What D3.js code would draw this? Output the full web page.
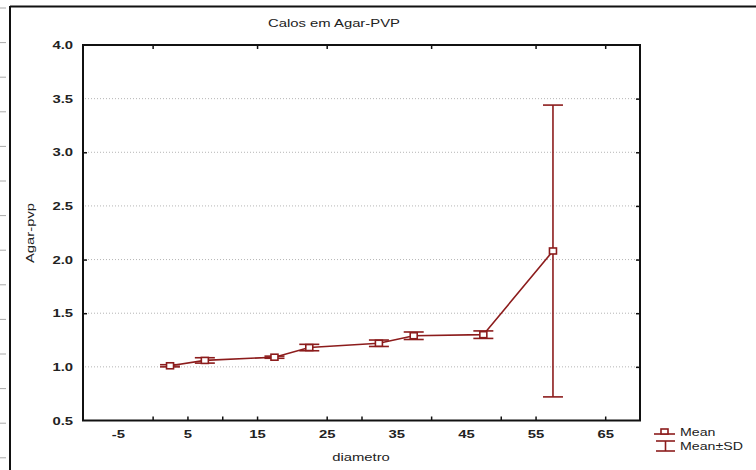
<!DOCTYPE html>
<html>
<head>
<meta charset="utf-8">
<script src="https://cdn.jsdelivr.net/npm/d3@7"></script>
<style>
  body { margin: 0; background: #fff; }
  svg { display: block; }
  text { font-family: "Liberation Sans", Arial, sans-serif; fill: #222; }
</style>
</head>
<body>
<svg id="chart" width="756" height="470"></svg>
<script>
/* data */
var diametro = [2.5, 7.5, 17.5, 22.5, 32.5, 37.5, 47.5, 57.5];
var meanVals = [1.01, 1.06, 1.09, 1.18, 1.22, 1.29, 1.30, 2.08];
var sdVals   = [0.01, 0.025, 0.01, 0.03, 0.03, 0.035, 0.035, 1.36];

var xLabelTicks  = [-5, 5, 15, 25, 35, 45, 55, 65];
var xBottomTicks = [0, 5, 10, 15, 25, 30, 40, 50, 55, 65];
var xTopTicks    = [0, 15, 25, 40, 55, 65];
var yLabelTicks  = [0.5, 1.0, 1.5, 2.0, 2.5, 3.0, 3.5, 4.0];
var yLeftTicks   = [1.5, 2.0, 3.0];
var yRightTicks  = [1.0, 1.5, 2.0, 2.5, 3.0, 3.5];
var gridVals     = [1.0, 1.5, 2.0, 2.5, 3.0, 3.5];

var red = "#8c1c1c";
var stretch = 1.35;

var svg = d3.select("#chart");
var pLeft = 83, pRight = 640, pTop = 45, pBottom = 420.5;

var x = d3.scaleLinear().domain([-10, 70]).range([pLeft, pRight]);
var y = d3.scaleLinear().domain([0.5, 4.0]).range([pBottom, pTop]);

/* outer frame with ruler marks */
svg.append("line").attr("x1", 10).attr("x2", 756).attr("y1", 6.5).attr("y2", 6.5)
  .attr("stroke", "#111").attr("stroke-width", 2);
svg.append("line").attr("x1", 10).attr("x2", 10).attr("y1", 6).attr("y2", 470)
  .attr("stroke", "#111").attr("stroke-width", 2);
svg.append("g").selectAll("line")
  .data(d3.range(8, 470, 34.6))
  .enter().append("line")
  .attr("x1", 0).attr("x2", 6)
  .attr("y1", function(d) { return d; }).attr("y2", function(d) { return d; })
  .attr("stroke", "#aaa");

/* grid */
svg.append("g").selectAll("line")
  .data(gridVals)
  .enter().append("line")
  .attr("x1", pLeft + 2).attr("x2", pRight - 2)
  .attr("y1", function(d) { return y(d); }).attr("y2", function(d) { return y(d); })
  .attr("stroke", "#b5b5b5").attr("stroke-dasharray", "1,2");

/* tick marks (inside) */
function marks(axis, tr) {
  var g = svg.append("g").attr("transform", tr).call(axis.tickSize(-4).tickFormat(""));
  g.select(".domain").remove();
  g.selectAll("line").attr("stroke", "#111").attr("stroke-width", 1.5);
}
marks(d3.axisBottom(x).tickValues(xBottomTicks), "translate(0," + pBottom + ")");
marks(d3.axisTop(x).tickValues(xTopTicks), "translate(0," + pTop + ")");
marks(d3.axisLeft(y).tickValues(yLeftTicks), "translate(" + pLeft + ",0)");
marks(d3.axisRight(y).tickValues(yRightTicks), "translate(" + pRight + ",0)");

/* tick labels */
var xLab = svg.append("g").attr("transform", "translate(0," + (pBottom + 10) + ")")
  .call(d3.axisBottom(x).tickValues(xLabelTicks).tickSize(0).tickPadding(0)
    .tickFormat(function(d) { return String(d); }));
xLab.select(".domain").remove();
xLab.selectAll("text")
  .attr("y", 0).attr("dy", "0.71em")
  .attr("transform", "scale(" + stretch + ",1)")
  .attr("x", 0)
  .style("font-size", "11px").style("font-weight", "bold");

var yLab = svg.append("g").attr("transform", "translate(73,0)")
  .call(d3.axisLeft(y).tickValues(yLabelTicks).tickSize(0).tickPadding(0).tickFormat(d3.format(".1f")));
yLab.select(".domain").remove();
yLab.selectAll("text")
  .attr("x", 0)
  .attr("transform", "scale(" + stretch + ",1)")
  .style("font-size", "11px").style("font-weight", "bold");

/* plot frame */
svg.append("rect")
  .attr("x", pLeft).attr("y", pTop)
  .attr("width", pRight - pLeft).attr("height", pBottom - pTop)
  .attr("fill", "none").attr("stroke", "#111").attr("stroke-width", 2);

/* titles */
function label(txt, tx, ty, rot, size) {
  svg.append("text")
    .attr("transform", "translate(" + tx + "," + ty + ")" + (rot ? " rotate(" + rot + ")" : "") + " scale(" + stretch + ",1)")
    .attr("text-anchor", "middle")
    .style("font-size", size + "px")
    .text(txt);
}
label("Calos em Agar-PVP", 334, 27, 0, 11);
label("diametro", 361, 461, 0, 11);
label("Agar-pvp", 34, 233, -90, 11);

/* data */
var pts = diametro.map(function(d, i) { return {x: d, m: meanVals[i], sd: sdVals[i]}; });

svg.append("path")
  .datum(pts)
  .attr("fill", "none").attr("stroke", red).attr("stroke-width", 1.6)
  .attr("d", d3.line().x(function(d) { return x(d.x); }).y(function(d) { return y(d.m); }));

var eb = svg.append("g").selectAll("g").data(pts).enter().append("g")
  .attr("stroke", red).attr("stroke-width", 1.6).attr("fill", "none");
eb.append("line")
  .attr("x1", function(d) { return x(d.x); }).attr("x2", function(d) { return x(d.x); })
  .attr("y1", function(d) { return y(d.m + d.sd); }).attr("y2", function(d) { return y(d.m - d.sd); });
eb.append("line")
  .attr("x1", function(d) { return x(d.x) - 10; }).attr("x2", function(d) { return x(d.x) + 10; })
  .attr("y1", function(d) { return y(d.m + d.sd); }).attr("y2", function(d) { return y(d.m + d.sd); });
eb.append("line")
  .attr("x1", function(d) { return x(d.x) - 10; }).attr("x2", function(d) { return x(d.x) + 10; })
  .attr("y1", function(d) { return y(d.m - d.sd); }).attr("y2", function(d) { return y(d.m - d.sd); });
eb.append("rect")
  .attr("x", function(d) { return x(d.x) - 3.5; }).attr("y", function(d) { return y(d.m) - 3; })
  .attr("width", 7).attr("height", 6)
  .attr("fill", "#fff");

/* legend */
var lg = svg.append("g").attr("stroke", red).attr("stroke-width", 1.6).attr("fill", "none");
lg.append("line").attr("x1", 654).attr("x2", 675).attr("y1", 434).attr("y2", 434);
lg.append("rect").attr("x", 661).attr("y", 429).attr("width", 7).attr("height", 5).attr("fill", "#fff");
lg.append("line").attr("x1", 656).attr("x2", 675).attr("y1", 441).attr("y2", 441);
lg.append("line").attr("x1", 665.5).attr("x2", 665.5).attr("y1", 441).attr("y2", 451);
lg.append("line").attr("x1", 656).attr("x2", 675).attr("y1", 451).attr("y2", 451);

var legendNames = ["Mean", "Mean\u00b1SD"];
svg.append("g").selectAll("text").data(legendNames).enter().append("text")
  .attr("transform", function(d, i) { return "translate(680," + (436 + i * 13.5) + ") scale(" + stretch + ",1)"; })
  .style("font-size", "10.5px")
  .text(function(d) { return d; });
</script>
</body>
</html>
